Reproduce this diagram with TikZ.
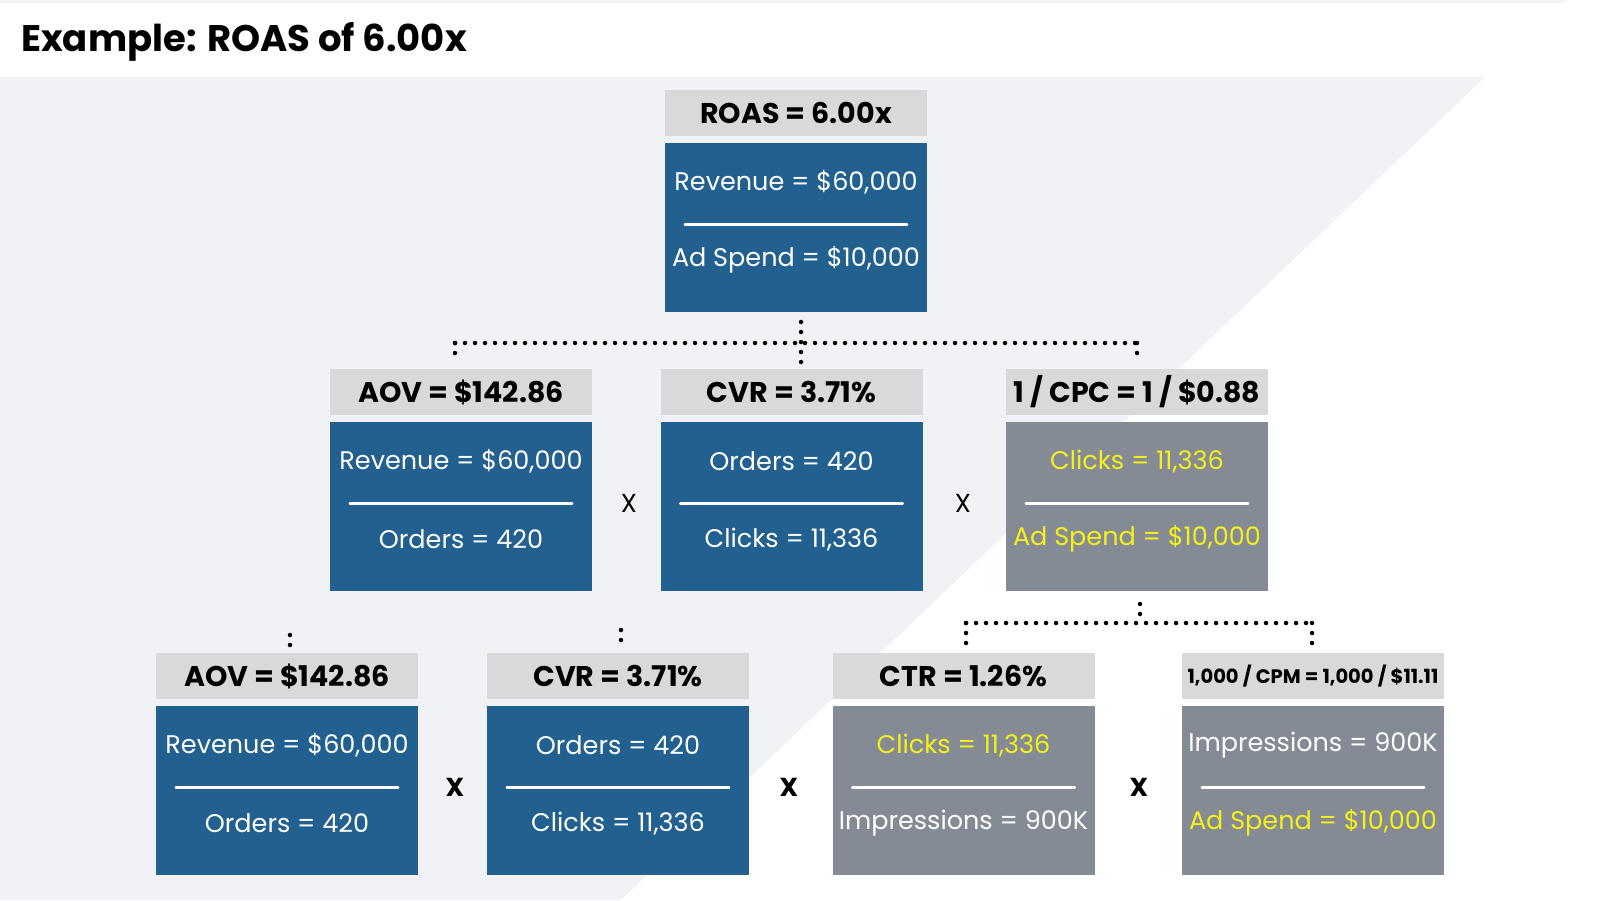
\documentclass[tikz,border=0pt]{standalone}
\usepackage{fontspec}
\setmainfont{Poppins}
\usepackage{tikz}
\usetikzlibrary{positioning}
\definecolor{pagegray}{RGB}{241,242,246}
\definecolor{headgray}{RGB}{217,217,217}
\definecolor{cardblue}{RGB}{34,97,143}
\definecolor{cardgray}{RGB}{132,139,149}
\definecolor{hiyellow}{RGB}{245,240,25}
\tikzstyle{heading}=[fill=headgray, inner sep=0pt, minimum width=262pt, minimum height=46pt, font=\fontsize{28.5}{32}\selectfont\bfseries]
\tikzstyle{card}=[inner sep=0pt, minimum width=262pt, minimum height=169pt]
\tikzstyle{ratio}=[inner sep=0pt, font=\fontsize{25.5}{30}\selectfont]
\tikzstyle{bar}=[draw=white, line width=2.5pt, line cap=round]
\tikzstyle{dots}=[draw=black, line width=4.5pt, line cap=round, dash pattern=on 0pt off 10pt]
\tikzstyle{times}=[inner sep=0pt, font=\fontsize{26}{30}\selectfont]
\tikzstyle{bold times}=[inner sep=0pt, font=\fontsize{26}{30}\selectfont\bfseries]

\begin{document}
\begin{tikzpicture}[x=1pt, y=-1pt]
% Background, banner and title
\useasboundingbox (0,0) rectangle (1600,900);
\fill[white] (0,0) rectangle (1600,900);
\fill[pagegray] (0,0) -- (1565,0) -- (1562,3) -- (0,3) -- cycle;
\fill[pagegray] (0,77) -- (1485,77) -- (621,900) -- (0,900) -- cycle;
\node[anchor=west, inner sep=0pt, font=\fontsize{37}{42}\selectfont\bfseries] (title) at (21,42) {Example: ROAS of 6.00x};

% First we draw the cards
\foreach \pos/\name/\hd/\cc/\ncol/\numer/\dcol/\denom in {
	{(796,113)/roas/{ROAS = 6.00x}/cardblue/white/{Revenue = \$60,000}/white/{Ad Spend = \$10,000}},
	{(461,392)/aov/{AOV = \$142.86}/cardblue/white/{Revenue = \$60,000}/white/{Orders = 420}},
	{(791.5,392)/cvr/{CVR = 3.71\%}/cardblue/white/{Orders = 420}/white/{Clicks = 11,336}},
	{(1137,392)/cpc/{1 / CPC = 1 / \$0.88}/cardgray/hiyellow/{Clicks = 11,336}/hiyellow/{Ad Spend = \$10,000}},
	{(287,676)/aov2/{AOV = \$142.86}/cardblue/white/{Revenue = \$60,000}/white/{Orders = 420}},
	{(618,676)/cvr2/{CVR = 3.71\%}/cardblue/white/{Orders = 420}/white/{Clicks = 11,336}},
	{(963.5,676)/ctr/{CTR = 1.26\%}/cardgray/hiyellow/{Clicks = 11,336}/white/{Impressions = 900K}},
	{(1313,676)/cpm/{\fontsize{19.5}{22}\selectfont 1,000 / CPM = 1,000 / \$11.11}/cardgray/white/{Impressions = 900K}/hiyellow/{Ad Spend = \$10,000}}}
{
\node[heading] (\name) at \pos {\hd};
\node[card, fill=\cc, below=6.5pt of \name] (\name-b) {};
\node[ratio, text=\ncol] (\name-n) at ([yshift=-39.5pt]\name-b.north) {\numer};
\node[ratio, text=\dcol] (\name-d) at ([yshift=-117.5pt]\name-b.north) {\denom};
\path[bar] ([xshift=20pt, yshift=-82pt]\name-b.north west) -- ([xshift=-20pt, yshift=-82pt]\name-b.north east);
}

% Multiplication signs between the cards
\foreach \pos/\name/\kind in {
	{(629,503)/times-a/times},
	{(963,503)/times-b/times},
	{(455,787)/times-c/bold times},
	{(789,787)/times-d/bold times},
	{(1139,787)/times-e/bold times}}
\node[\kind] (\name) at \pos {X};

% Then the dotted links
\coordinate (roas-dot) at (801,322);
\coordinate (cvr-dot) at (801,364);
\coordinate (bus-l) at (455,343);
\coordinate (bus-r) at (1137,343);
\coordinate (aov-dot) at (455,356);
\coordinate (cpc-dot) at (1137,356);
\coordinate (aov2-a) at (290,635);
\coordinate (aov2-z) at (290,645.5);
\coordinate (cvr2-a) at (621,630);
\coordinate (cvr2-z) at (621,640.5);
\coordinate (cpc-low) at (1140,604);
\coordinate (fork-m) at (1140,616);
\coordinate (fork-l) at (966,623);
\coordinate (fork-r) at (1312,623);
\coordinate (ctr-dot) at (966,643.5);
\coordinate (cpm-dot) at (1312,646);

\foreach \source/\dest in {
	roas-dot/cvr-dot,
	bus-l/bus-r,
	bus-l/aov-dot,
	bus-r/cpc-dot,
	aov2-a/aov2-z,
	cvr2-a/cvr2-z,
	cpc-low/fork-m,
	fork-l/fork-r,
	fork-l/ctr-dot,
	fork-r/cpm-dot}
\path[dots] (\source) -- (\dest);

\end{tikzpicture}
\end{document}
